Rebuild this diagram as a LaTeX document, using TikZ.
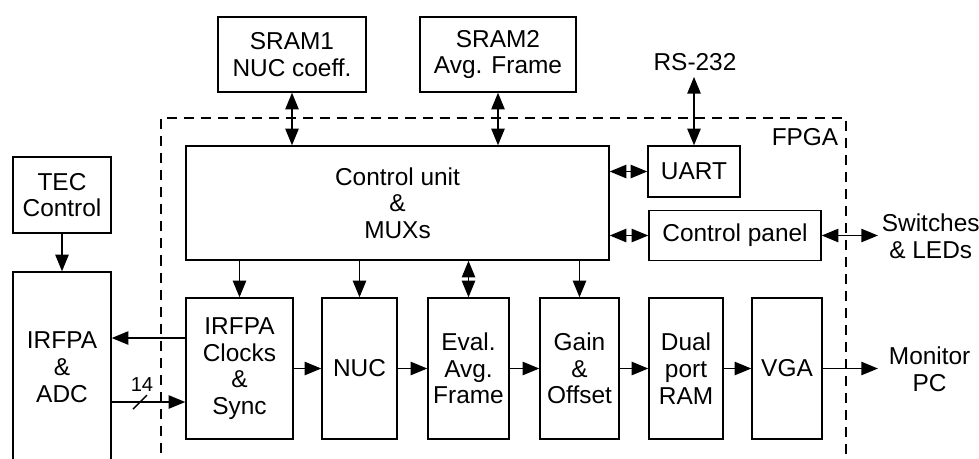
\documentclass[tikz,border=0pt]{standalone}
\usepackage{fontspec}
\setmainfont{Liberation Sans}
\usetikzlibrary{arrows.meta}

\begin{document}
\begin{tikzpicture}[yscale=-1, x=0.02cm, y=0.02cm,
	every node/.style={font=\fontsize{13.9}{15.2}\selectfont, align=center},
	blk/.style={draw=black, line width=0.75pt, inner sep=0pt},
	link/.style={line width=1.1pt, -{Triangle[length=9.5pt,width=7.5pt]}},
	dlink/.style={line width=1.1pt, {Triangle[length=9.5pt,width=7.5pt]}-{Triangle[length=9.5pt,width=7.5pt]}}]
		\useasboundingbox (0,0) rectangle (979,458);
		\clip (0,0) rectangle (979,458);
		\draw [line width=1.1pt, dash pattern=on 5.7pt off 4pt] (161,470) -- (161,118) -- (846,118) -- (846,470);
		\node (fpga) at (805,137) {FPGA};
		\node[blk, minimum width=2.96cm, minimum height=1.5cm] (sram1) at (292,54.5) {SRAM1\\NUC coeff.};
		\node[blk, minimum width=3.12cm, minimum height=1.5cm] (sram2) at (498,54.5) {SRAM2\\Avg. Frame};
		\node (rs) at (695,62) {RS-232};
		\node[blk, minimum width=8.46cm, minimum height=2.28cm] (ctrl) at (397.5,203) {Control unit\\\&\\MUXs};
		\node[blk, minimum width=1.84cm, minimum height=1.02cm] (uart) at (694,171.5) {UART};
		\node[blk, minimum width=3.44cm, minimum height=1cm] (panel) at (735,235.5) {Control panel};
		\node[anchor=west, inner sep=2pt] (sw) at (878,236.5) {Switches\\\& LEDs};
		\node[blk, minimum width=1.96cm, minimum height=1.52cm] (tec) at (62,195) {TEC\\Control};
		\node[blk, minimum width=1.96cm, minimum height=3.8cm] (adc) at (62,367) {IRFPA\\\&\\ADC};
		\node[blk, minimum width=2.14cm, minimum height=2.82cm] (clk) at (239.5,368.5) {IRFPA\\Clocks\\\&\\Sync};
		\node[blk, minimum width=1.5cm, minimum height=2.82cm] (nuc) at (359.5,368.5) {NUC};
		\node[blk, minimum width=1.62cm, minimum height=2.82cm] (eval) at (468.5,368.5) {Eval.\\Avg.\\Frame};
		\node[blk, minimum width=1.58cm, minimum height=2.82cm] (gain) at (579.5,368.5) {Gain\\\&\\Offset};
		\node[blk, minimum width=1.48cm, minimum height=2.82cm] (dual) at (686,368.5) {Dual\\port\\RAM};
		\node[blk, minimum width=1.4cm, minimum height=2.82cm] (vga) at (787,368.5) {VGA};
		\node[anchor=west, inner sep=6pt] (mon) at (878,369) {Monitor\\PC};
		\node[font=\fontsize{11.5}{13}\selectfont] (n14) at (142,385) {14};
		\draw [dlink] (sram1.south) -- (sram1.south |- ctrl.north);
		\draw [dlink] (sram2.south) -- (sram2.south |- ctrl.north);
		\draw [dlink] (uart.north) -- (uart.north |- rs.south);
		\draw [dlink] (ctrl.east |- uart) -- (uart.west);
		\draw [dlink] (ctrl.east |- panel) -- (panel.west);
		\draw [dlink] (panel.east) -- (panel.east -| sw.west);
		\draw [link] (tec) -- (adc);
		\draw [link] (clk |- ctrl.south) -- (clk.north);
		\draw [link] (nuc |- ctrl.south) -- (nuc.north);
		\draw [dlink] (eval |- ctrl.south) -- (eval.north);
		\draw [link] (gain |- ctrl.south) -- (gain.north);
		\draw [link] (clk.west |- 0,338) -- (adc.east |- 0,338);
		\draw [link] (adc.east |- 0,402) -- (clk.west |- 0,402);
		\draw [line width=0.8pt] (133,409) -- (147,395);
		\path [link] (clk) edge (nuc) (nuc) edge (eval) (eval) edge (gain) (gain) edge (dual) (dual) edge (vga);
		\draw [link] (vga.east) -- (vga.east -| mon.west);
	\end{tikzpicture}
\end{document}
